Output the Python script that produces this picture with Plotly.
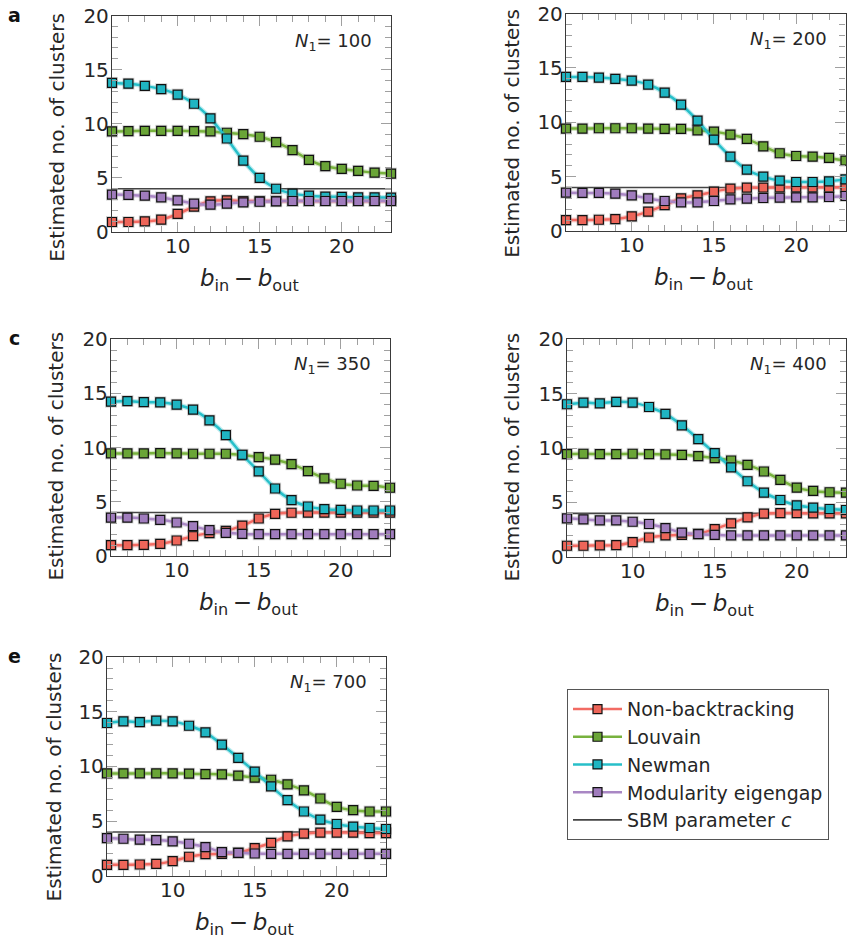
import plotly.graph_objects as go

W, H = 847, 939
FONT = "DejaVu Sans"

x_vals = list(range(6, 24))
sbm_c = 4

panel_n1 = [100, 200, 350, 400, 700]
panel_letters = ["a", "", "c", "", "e"]

nb_100 = [0.93, 0.93, 0.99, 1.14, 1.67, 2.35, 2.84, 2.93, 2.87, 2.87, 2.87, 2.87, 2.87, 2.87, 2.87, 2.87, 2.87, 2.87]
louvain_100 = [9.29, 9.32, 9.35, 9.35, 9.35, 9.32, 9.29, 9.17, 9.04, 8.8, 8.3, 7.56, 6.67, 6.08, 5.83, 5.65, 5.49, 5.4]
newman_100 = [13.77, 13.7, 13.5, 13.2, 12.7, 11.85, 10.5, 8.64, 6.6, 5.0, 4.0, 3.55, 3.36, 3.27, 3.24, 3.2, 3.2, 3.18]
eigengap_100 = [3.46, 3.43, 3.36, 3.2, 2.93, 2.62, 2.53, 2.62, 2.75, 2.8, 2.84, 2.87, 2.87, 2.87, 2.87, 2.87, 2.87, 2.87]

nb_200 = [1.01, 1.01, 1.04, 1.1, 1.35, 1.78, 2.39, 3.0, 3.28, 3.62, 3.9, 3.99, 3.99, 4.02, 4.02, 4.02, 4.02, 4.02]
louvain_200 = [9.42, 9.42, 9.45, 9.45, 9.45, 9.42, 9.39, 9.39, 9.26, 9.14, 8.87, 8.47, 7.79, 7.15, 6.9, 6.84, 6.72, 6.47]
newman_200 = [14.17, 14.17, 14.11, 13.99, 13.83, 13.47, 12.73, 11.63, 10.15, 8.4, 6.84, 5.64, 5.0, 4.63, 4.51, 4.51, 4.57, 4.75]
eigengap_200 = [3.53, 3.5, 3.5, 3.44, 3.28, 3.0, 2.76, 2.64, 2.64, 2.76, 2.91, 2.98, 3.04, 3.07, 3.1, 3.1, 3.13, 3.22]

nb_350 = [0.99, 0.99, 1.02, 1.11, 1.42, 1.82, 2.1, 2.31, 2.8, 3.45, 3.88, 3.98, 4.0, 4.0, 4.0, 4.0, 4.0, 4.0]
louvain_350 = [9.46, 9.46, 9.46, 9.49, 9.46, 9.43, 9.43, 9.43, 9.31, 9.12, 8.88, 8.47, 7.83, 7.15, 6.66, 6.5, 6.47, 6.29]
newman_350 = [14.24, 14.3, 14.2, 14.18, 13.96, 13.5, 12.51, 11.16, 9.34, 7.8, 6.22, 5.15, 4.56, 4.31, 4.25, 4.19, 4.19, 4.19]
eigengap_350 = [3.54, 3.54, 3.45, 3.33, 3.08, 2.74, 2.37, 2.13, 2.03, 2.0, 2.0, 2.0, 2.0, 2.0, 2.0, 2.0, 2.0, 2.0]

nb_400 = [1.02, 1.02, 1.05, 1.08, 1.35, 1.78, 1.97, 2.03, 2.12, 2.55, 3.08, 3.63, 3.97, 4.03, 4.03, 4.0, 4.0, 4.0]
louvain_400 = [9.45, 9.48, 9.45, 9.45, 9.48, 9.45, 9.42, 9.38, 9.26, 9.08, 8.86, 8.46, 7.85, 7.08, 6.37, 6.06, 5.94, 5.9]
newman_400 = [14.03, 14.18, 14.12, 14.25, 14.18, 13.78, 13.14, 12.09, 10.83, 9.54, 8.22, 6.95, 5.9, 5.23, 4.74, 4.52, 4.4, 4.31]
eigengap_400 = [3.54, 3.45, 3.35, 3.35, 3.23, 3.02, 2.65, 2.22, 2.09, 2.03, 1.97, 1.97, 1.97, 1.97, 1.97, 1.97, 1.97, 1.97]

nb_700 = [0.99, 0.99, 1.02, 1.08, 1.33, 1.73, 1.97, 2.0, 2.09, 2.52, 3.01, 3.6, 3.84, 3.94, 3.94, 3.94, 3.9, 3.9]
louvain_700 = [9.36, 9.36, 9.36, 9.36, 9.36, 9.33, 9.3, 9.27, 9.15, 8.97, 8.78, 8.35, 7.8, 7.06, 6.3, 5.99, 5.87, 5.87]
newman_700 = [13.97, 14.12, 14.06, 14.18, 14.12, 13.72, 13.11, 12.0, 10.78, 9.52, 8.17, 6.91, 5.87, 5.13, 4.73, 4.49, 4.36, 4.27]
eigengap_700 = [3.44, 3.38, 3.29, 3.26, 3.14, 2.92, 2.62, 2.16, 2.09, 2.03, 2.0, 2.0, 2.0, 2.0, 2.0, 2.0, 2.0, 2.0]

method_names = ["Non-backtracking", "Louvain", "Newman", "Modularity eigengap"]
line_colors = ["#f26b63", "#78b23e", "#27bfc9", "#a987c4"]
fill_colors = ["#ee6559", "#6aa537", "#1fb5c2", "#a07cbd"]
halo_colors = ["rgba(242,107,99,0.3)", "rgba(120,178,62,0.3)", "rgba(39,191,201,0.3)", "rgba(169,135,196,0.3)"]

panel_series = [
    [nb_100, louvain_100, newman_100, eigengap_100],
    [nb_200, louvain_200, newman_200, eigengap_200],
    [nb_350, louvain_350, newman_350, eigengap_350],
    [nb_400, louvain_400, newman_400, eigengap_400],
    [nb_700, louvain_700, newman_700, eigengap_700],
]

# plot-area boxes in target pixels: (left, right, top, bottom)
boxes = [
    (112, 391, 15, 231),
    (566, 845.5, 13, 230),
    (111, 390, 338, 554),
    (567, 846, 338, 555),
    (107, 386, 655, 873),
]
ytitle_pos = [(57, 137), (512, 133), (56, 455), (512, 456), (54, 775)]

# empirical vertical correction of the capture
V_OFF, V_SCALE = 11.5, 0.972


def px(xp):
    return xp / W


def py(yp):
    return 1 - ((yp - V_OFF) / V_SCALE) / H


fig = go.Figure()
annotations = []

for i, (series, box) in enumerate(zip(panel_series, boxes)):
    xa = "x" if i == 0 else f"x{i+1}"
    ya = "y" if i == 0 else f"y{i+1}"
    l, r, t, b = box
    axis_common = dict(
        showline=True, linecolor="#3a3a3a", linewidth=1.3, mirror="ticks",
        ticks="inside", ticklen=10, tickcolor="#a0a0a0", tickwidth=1,
        showgrid=False, zeroline=False,
        tickfont=dict(family=FONT, size=20, color="#262626"),
        minor=dict(ticks="inside", ticklen=6, dtick=1, tickcolor="#a0a0a0", tickwidth=1, showgrid=False),
    )
    fig.layout[("xaxis" if i == 0 else f"xaxis{i+1}")] = dict(
        domain=[px(l), px(r)], range=[6, 23], tick0=0, dtick=5, anchor=ya,
        ticklabelstandoff=-4, **axis_common)
    fig.layout[("yaxis" if i == 0 else f"yaxis{i+1}")] = dict(
        domain=[py(b), py(t)], range=[0, 20], tick0=0, dtick=5, anchor=xa,
        ticklabelstandoff=-2, **axis_common)

    # SBM parameter line (drawn first, listed last in legend)
    fig.add_trace(go.Scatter(
        x=[x_vals[0], x_vals[-1]], y=[sbm_c, sbm_c], mode="lines",
        line=dict(color="#444444", width=1.6), xaxis=xa, yaxis=ya,
        name="SBM parameter <i>c</i>", showlegend=(i == 0), legendrank=5,
        hoverinfo="skip"))

    for k, ys in enumerate(series):
        fig.add_trace(go.Scatter(
            x=x_vals, y=ys, mode="lines+markers", xaxis=xa, yaxis=ya,
            line=dict(color=halo_colors[k], width=5, shape="spline", smoothing=0.6),
            marker=dict(symbol="square", size=12, color="rgba(120,120,120,0.3)",
                        line=dict(width=0)),
            showlegend=False, cliponaxis=False, hoverinfo="skip"))
        fig.add_trace(go.Scatter(
            x=x_vals, y=ys, mode="lines+markers", xaxis=xa, yaxis=ya,
            line=dict(color=line_colors[k], width=2.5, shape="spline", smoothing=0.6),
            marker=dict(symbol="square", size=9, color=fill_colors[k],
                        line=dict(width=1.2, color="#111111")),
            name=method_names[k], showlegend=(i == 0), legendrank=k + 1,
            cliponaxis=False))

    # N1 label
    annotations.append(dict(
        x=px(r - 17), y=py(t + 26), xref="paper", yref="paper",
        xanchor="right", yanchor="middle", showarrow=False,
        text=f"<i>N</i><sub>1</sub>= {panel_n1[i]}",
        font=dict(family=FONT, size=18, color="#262626")))
    # y title
    yx, yy = ytitle_pos[i]
    annotations.append(dict(
        x=px(yx), y=py(yy), xref="paper", yref="paper",
        xanchor="center", yanchor="middle", showarrow=False, textangle=-90,
        text="Estimated no. of clusters",
        font=dict(family=FONT, size=20, color="#262626")))
    # x title
    annotations.append(dict(
        x=px((l + r) / 2 - 2), y=py(b + 48), xref="paper", yref="paper",
        xanchor="center", yanchor="middle", showarrow=False,
        text="<i>b</i><sub>in</sub>\u2009\u2212\u2009<i>b</i><sub>out</sub>",
        font=dict(family=FONT, size=23, color="#262626")))
    # panel letter
    if panel_letters[i]:
        annotations.append(dict(
            x=px(14), y=py(t - 1), xref="paper", yref="paper",
            xanchor="center", yanchor="middle", showarrow=False,
            text=f"<b>{panel_letters[i]}</b>",
            font=dict(family=FONT, size=19, color="#111111")))

fig.update_layout(
    width=W, height=H, autosize=False,
    margin=dict(l=0, r=0, t=0, b=0),
    paper_bgcolor="white", plot_bgcolor="white",
    annotations=annotations,
    legend=dict(
        x=px(567), y=py(687), xanchor="left", yanchor="top",
        bordercolor="#555555", borderwidth=1, bgcolor="white",
        font=dict(family=FONT, size=19, color="#262626"),
        itemwidth=49,
        traceorder="normal"),
    showlegend=True,
)

fig.write_html(
    "out.html",
    config={"displayModeBar": False},
    post_script="document.body.style.margin='0';document.body.style.overflow='hidden';",
)
